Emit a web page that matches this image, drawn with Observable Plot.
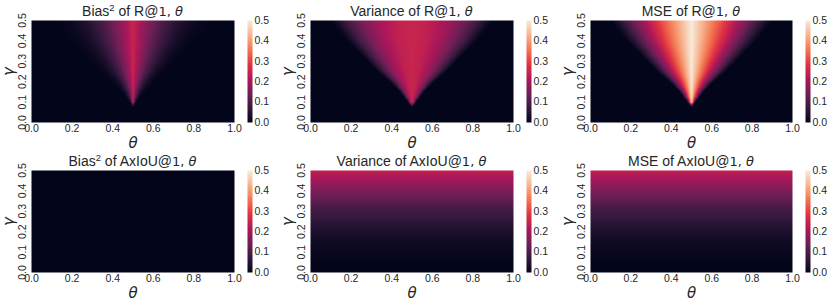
<!DOCTYPE html>
<html><head><meta charset="utf-8">
<script src="https://cdn.jsdelivr.net/npm/d3@7"></script>
<script src="https://cdn.jsdelivr.net/npm/@observablehq/plot@0.6"></script>
<style>
body{margin:0;background:#fff;}
#c{position:relative;width:831px;height:304px;overflow:hidden;}
#c > div{position:absolute;}
#c svg{max-width:none !important;overflow:visible;}
</style></head><body><div id="c"></div>
<script>
// ---- data ----
// R@1 panels: for each gamma row, the theta offsets from 0.5 at which the value
// has fallen to each successive level (last offset = edge of the wedge).
const gammaR = [0, 0.025, 0.05, 0.075, 0.1, 0.125, 0.15, 0.175, 0.2, 0.225, 0.25,
                0.275, 0.3, 0.325, 0.35, 0.375, 0.4, 0.425, 0.45, 0.475, 0.5];
const wedgeOffsets = [
  [0, 0, 0, 0, 0],
  [0, 0, 0, 0, 0],
  [0, 0, 0, 0, 0],
  [0, 0, 0, 0, 0],
  [.004, .008, .012, .016, .02],
  [.008, .016, .024, .032, .04],
  [.012, .024, .036, .048, .06],
  [.017, .034, .051, .068, .085],
  [.022, .044, .066, .088, .11],
  [.028, .056, .084, .112, .14],
  [.034, .068, .102, .136, .17],
  [.039, .078, .117, .156, .195],
  [.044, .088, .132, .176, .22],
  [.049, .098, .147, .196, .245],
  [.054, .108, .162, .216, .27],
  [.059, .118, .177, .236, .295],
  [.064, .128, .192, .256, .32],
  [.068, .136, .204, .272, .34],
  [.072, .144, .216, .288, .36],
  [.076, .152, .228, .304, .38],
  [.08, .16, .24, .32, .40]
];
const biasRLevels = [0.25, 0.16, 0.09, 0.04, 0.01, 0];
const varRLevels  = [0.25, 0.24, 0.21, 0.16, 0.09, 0];
const mseRLevels  = [0.5, 0.4, 0.3, 0.2, 0.1, 0];

// AxIoU panels: value depends on gamma only
const gammaA = [0, 0.05, 0.1, 0.15, 0.2, 0.25, 0.3, 0.35, 0.4, 0.45, 0.5];
const biasA = [0, 0, 0, 0, 0, 0, 0, 0, 0, 0, 0];
const varA  = [0, .002, .01, .02, .038, .06, .085, .12, .155, .2, .24];
const mseA  = [0, .002, .01, .02, .038, .06, .085, .12, .155, .2, .24];

const measures = ["Bias", "Variance", "MSE"];
const metrics = ["R", "AxIoU"];
const xTicks = [0, 0.2, 0.4, 0.6, 0.8, 1.0];
const yTicks = [0, 0.1, 0.2, 0.3, 0.4, 0.5];
const cbTicks = [0, 0.1, 0.2, 0.3, 0.4, 0.5];
const rocketStops = ["#03051a","#35193e","#701f57","#ad1759","#e13342","#f37651","#f6b48f","#faebdd"];

// ---- tables for the library ----
function wedgeTable(levels) {
  const rows = [];
  gammaR.forEach((g, i) => {
    const off = wedgeOffsets[i];
    rows.push({theta: 0, gamma: g, v: 0}, {theta: 1, gamma: g, v: 0});
    if (off[off.length - 1] === 0) { rows.push({theta: 0.5, gamma: g, v: 0}); return; }
    rows.push({theta: 0.5, gamma: g, v: levels[0]});
    off.forEach((d, k) => {
      rows.push({theta: 0.5 - d, gamma: g, v: levels[k + 1]}, {theta: 0.5 + d, gamma: g, v: levels[k + 1]});
    });
  });
  return rows;
}
function flatTable(vals) {
  const rows = [];
  gammaA.forEach((g, i) => rows.push({theta: 0, gamma: g, v: vals[i]}, {theta: 1, gamma: g, v: vals[i]}));
  return rows;
}
const tables = [
  [wedgeTable(biasRLevels), wedgeTable(varRLevels), wedgeTable(mseRLevels)],
  [flatTable(biasA), flatTable(varA), flatTable(mseA)]
];

// ---- layout ----
const plotLefts = [31, 310, 590];
const plotWidths = [203, 203, 202];
const ML = 31, MT = 20, MB = 38, MR = 16, PH = 102;
const textColor = "#262626";
const baseFont = "'Liberation Sans', Arial, sans-serif";
const rocket = d3.piecewise(d3.interpolateRgb, rocketStops);
const colorOpt = {type: "linear", domain: [0, 0.5], interpolate: rocket, clamp: true};
const fmt = d => d.toFixed(1);
const container = document.getElementById("c");

for (let r = 0; r < 2; r++) {
  for (let c = 0; c < 3; c++) {
    const pw = plotWidths[c];
    const chart = Plot.plot({
      width: ML + pw + MR, height: MT + PH + MB,
      marginLeft: ML, marginRight: MR, marginTop: MT, marginBottom: MB,
      style: {fontFamily: baseFont, fontSize: "10px", color: textColor, background: "transparent"},
      x: {domain: [0, 1], axis: null},
      y: {domain: [0, 0.5], axis: null},
      color: colorOpt,
      marks: [
        Plot.raster(tables[r][c], {x: "theta", y: "gamma", fill: "v", x1: 0, x2: 1, y1: 0, y2: 0.5, interpolate: "barycentric"}),
        Plot.text(xTicks, {x: d => d, frameAnchor: "bottom", dy: 6, lineAnchor: "middle", textAnchor: "middle", text: fmt, fontSize: 10.5}),
        Plot.text(yTicks, {y: d => d, frameAnchor: "left", dx: -9, rotate: -90, lineAnchor: "middle", textAnchor: "middle", text: fmt, fontSize: 10.5}),
        Plot.text(["θ"], {frameAnchor: "bottom", dy: 20.5, lineAnchor: "middle", textAnchor: "middle", fontFamily: "DejaVu Sans", fontStyle: "italic", fontSize: 15}),
        Plot.text(["γ"], {frameAnchor: "left", dx: -22, rotate: -90, lineAnchor: "middle", textAnchor: "middle", fontFamily: "DejaVu Sans", fontStyle: "italic", fontSize: 15})
      ]
    });
    // title
    const t = d3.select(chart).append("text")
      .attr("x", ML + pw / 2).attr("y", 15.5).attr("text-anchor", "middle")
      .attr("fill", textColor).style("font-family", baseFont).style("font-size", "14px");
    t.append("tspan").text(measures[c]);
    if (c === 0) {
      t.append("tspan").text("2").attr("dy", -5).style("font-size", "9.5px");
      t.append("tspan").text(" of " + metrics[r] + "@").attr("dy", 5);
    } else {
      t.append("tspan").text(" of " + metrics[r] + "@");
    }
    t.append("tspan").text("1, ").style("font-family", "DejaVu Sans").style("font-size", "13px");
    t.append("tspan").text("θ").style("font-family", "DejaVu Sans").style("font-style", "italic").style("font-size", "13px");

    const box = document.createElement("div");
    box.style.left = (plotLefts[c] - ML) + "px";
    box.style.top = (r * 150) + "px";
    box.appendChild(chart);
    container.appendChild(box);

    // colorbar
    const cb = Plot.plot({
      width: 32, height: MT + PH + 28,
      marginLeft: 0, marginRight: 27, marginTop: MT, marginBottom: 28,
      style: {fontFamily: baseFont, fontSize: "10px", color: textColor, background: "transparent"},
      x: {domain: [0, 1], axis: null},
      y: {domain: [0, 0.5], axis: null},
      color: colorOpt,
      marks: [
        Plot.raster({x1: 0, x2: 1, y1: 0, y2: 0.5, fill: (x, y) => y}),
        Plot.text(cbTicks, {y: d => d, frameAnchor: "right", dx: 2, textAnchor: "start", lineAnchor: "middle", text: fmt, fontSize: 10.5})
      ]
    });
    const cbox = document.createElement("div");
    cbox.style.left = (plotLefts[c] + pw + 13) + "px";
    cbox.style.top = (r * 150) + "px";
    cbox.appendChild(cb);
    container.appendChild(cbox);
  }
}
</script></body></html>
